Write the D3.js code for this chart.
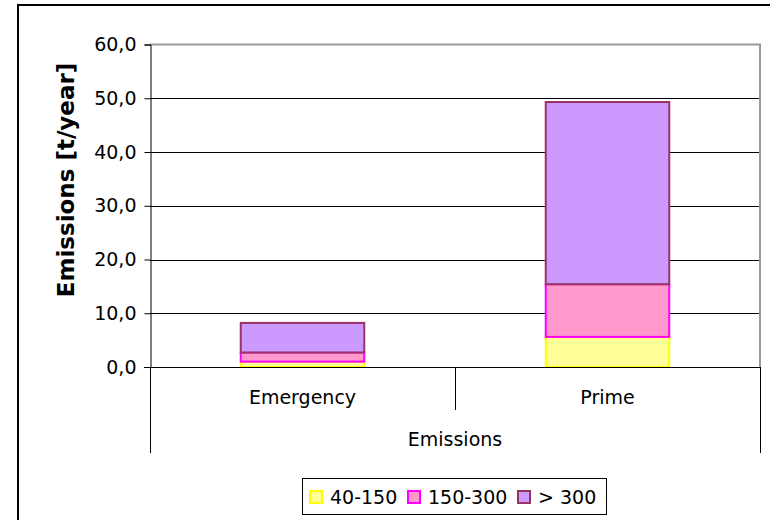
<!DOCTYPE html>
<html>
<head>
<meta charset="utf-8">
<script src="https://cdn.jsdelivr.net/npm/d3@7"></script>
<style>
  html, body { margin: 0; padding: 0; background: #fff; }
  svg { display: block; font-family: Tahoma, "DejaVu Sans", sans-serif; }
</style>
</head>
<body>
<svg id="chart" width="770" height="520"></svg>
<script>
// Emission classes (kW ranges) stacked per generator use
const categories = ["Emergency", "Prime"];
const seriesKeys = ["40-150", "150-300", "> 300"];
const values40to150 = [1.0, 5.6];
const values150to300 = [1.7, 9.8];
const valuesOver300 = [5.5, 33.9];
const yTicks = [0, 10, 20, 30, 40, 50, 60];
const groupLabel = "Emissions";
const yTitle = "Emissions [t/year]";

const fills = ["#FFFF99", "#FF99CC", "#CC99FF"];
const strokes = ["#FFFF00", "#FF00FF", "#993366"];

const rows = categories.map((c, i) => ({
  cat: c,
  "40-150": values40to150[i],
  "150-300": values150to300[i],
  "> 300": valuesOver300[i]
}));

const svg = d3.select("#chart");
const plotLeft = 150, plotRight = 760, plotTop = 44.5, plotBottom = 367;
const labelSize = 19;

// outer chart frame
svg.append("rect")
  .attr("x", 18).attr("y", 5).attr("width", 780).attr("height", 540)
  .attr("fill", "none").attr("stroke", "#000").attr("stroke-width", 2);

const x = d3.scaleBand().domain(categories).range([plotLeft, plotRight]).paddingInner(0).paddingOuter(0);
const y = d3.scaleLinear().domain([0, 60]).range([plotBottom, plotTop]);

// horizontal gridlines
svg.append("g").selectAll("line").data(yTicks.filter(t => t > 0 && t < 60)).join("line")
  .attr("x1", plotLeft).attr("x2", plotRight)
  .attr("y1", d => Math.round(y(d)) + 0.5).attr("y2", d => Math.round(y(d)) + 0.5)
  .attr("stroke", "#000").attr("stroke-width", 1);

// plot area border (top and right)
svg.append("path")
  .attr("d", `M${plotLeft},${y(60)}H${plotRight}V${plotBottom}`)
  .attr("fill", "none").attr("stroke", "#999").attr("stroke-width", 2);

// stacked bars
const stacked = d3.stack().keys(seriesKeys)(rows);
const barW = x.bandwidth() * 0.405;
svg.append("g").selectAll("g").data(stacked).join("g")
  .attr("fill", (d, i) => fills[i])
  .attr("stroke", (d, i) => strokes[i])
  .attr("stroke-width", 2)
  .selectAll("rect").data(d => d).join("rect")
  .attr("x", d => x(d.data.cat) + (x.bandwidth() - barW) / 2)
  .attr("width", barW)
  .attr("y", d => y(d[1]))
  .attr("height", d => y(d[0]) - y(d[1]));

// y axis
const yAxis = d3.axisLeft(y).tickValues(yTicks).tickSize(6).tickPadding(8)
  .tickFormat(d => d3.format(".1f")(d).replace(".", ","));
const gy = svg.append("g").attr("transform", `translate(${plotLeft + 0.5},0)`).call(yAxis);
gy.select(".domain").attr("stroke", "#000");
gy.selectAll(".tick line").attr("stroke", "#000");
gy.selectAll(".tick text").attr("font-size", labelSize).attr("fill", "#000")
  .attr("font-family", "Tahoma, 'DejaVu Sans', sans-serif");

// x axis baseline
svg.append("line").attr("x1", plotLeft - 6).attr("x2", plotRight)
  .attr("y1", plotBottom + 0.5).attr("y2", plotBottom + 0.5).attr("stroke", "#000");

// category dividers of the two-level axis
const edges = [plotLeft, plotRight];
svg.append("g").selectAll("line").data(edges).join("line")
  .attr("x1", d => d + 0.5).attr("x2", d => d + 0.5)
  .attr("y1", plotBottom).attr("y2", 453).attr("stroke", "#000");
svg.append("line")
  .attr("x1", x(categories[1]) + 0.5).attr("x2", x(categories[1]) + 0.5)
  .attr("y1", plotBottom).attr("y2", 410).attr("stroke", "#000");

svg.append("g").selectAll("text").data(categories).join("text")
  .attr("x", d => x(d) + x.bandwidth() / 2)
  .attr("y", 404)
  .attr("text-anchor", "middle").attr("font-size", labelSize).text(d => d);

svg.append("text").attr("x", (plotLeft + plotRight) / 2).attr("y", 446)
  .attr("text-anchor", "middle").attr("font-size", labelSize).text(groupLabel);

// y title
svg.append("text")
  .attr("transform", "translate(74,180) rotate(-90)")
  .attr("text-anchor", "middle").attr("font-size", 23).attr("font-weight", "bold")
  .text(yTitle);

// legend
const lg = svg.append("g");
lg.append("rect").attr("x", 302.5).attr("y", 478.5).attr("width", 304).attr("height", 36)
  .attr("fill", "#fff").attr("stroke", "#000");
const legendX = [310, 408, 518];
seriesKeys.forEach((k, i) => {
  lg.append("rect").attr("x", legendX[i]).attr("y", 491).attr("width", 12).attr("height", 12)
    .attr("fill", fills[i]).attr("stroke", strokes[i]).attr("stroke-width", 2);
  lg.append("text").attr("x", legendX[i] + 20).attr("y", 504)
    .attr("font-size", labelSize).text(k);
});
</script>
</body>
</html>
